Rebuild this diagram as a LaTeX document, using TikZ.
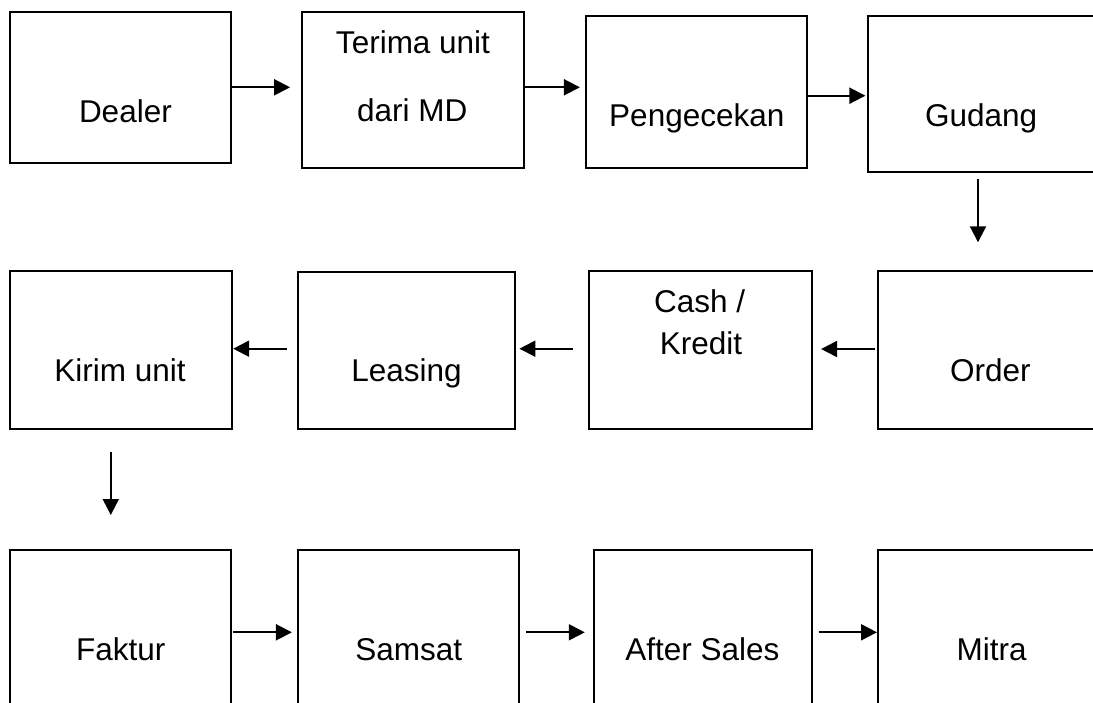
\documentclass[tikz,border=0pt]{standalone}
\usepackage{fontspec}
\setmainfont{Liberation Sans}
\usetikzlibrary{arrows.meta}

\begin{document}
\begin{tikzpicture}[x=1pt,y=-1pt,line width=2pt,>={Triangle[length=16pt,width=16pt]},main box/.style={rectangle,draw,inner sep=0pt},box text/.style={anchor=base,inner sep=0pt,font=\fontsize{31.5}{38}\selectfont}]

                    \useasboundingbox (0,0) rectangle (1093,702);
                    \clip (0,0) rectangle (1093,702);

                    \node[main box,minimum width=221pt,minimum height=151pt] at (120.3,87.8) (dealer) {};
                    \node[main box,minimum width=221.3pt,minimum height=155.4pt] at (413.05,90) (terima) {};
                    \node[main box,minimum width=221pt,minimum height=151.7pt] at (696.6,91.85) (cek) {};
                    \node[main box,minimum width=232.5pt,minimum height=156.3pt] at (983.75,94.15) (gudang) {};
                    \node[main box,minimum width=221.7pt,minimum height=158pt] at (120.65,350) (kirim) {};
                    \node[main box,minimum width=217.4pt,minimum height=157.6pt] at (406.2,350.5) (leasing) {};
                    \node[main box,minimum width=223.8pt,minimum height=158.3pt] at (700.5,350.15) (bayar) {};
                    \node[main box,minimum width=222pt,minimum height=158.3pt] at (989,350.15) (order) {};
                    \node[main box,minimum width=221pt,minimum height=170pt] at (120.3,635) (faktur) {};
                    \node[main box,minimum width=221.6pt,minimum height=170pt] at (408.3,635) (samsat) {};
                    \node[main box,minimum width=218.5pt,minimum height=170pt] at (703.15,635) (aftersales) {};
                    \node[main box,minimum width=222pt,minimum height=170pt] at (989,635) (mitra) {};

                    \node[box text] at (125.4,122.3) (t-dealer) {Dealer};
                    \node[box text] at (413,53.3) (t-terima) {Terima unit};
                    \node[box text] at (412.3,121.7) (t-md) {dari MD};
                    \node[box text] at (696.8,126.7) (t-cek) {Pengecekan};
                    \node[box text] at (981.1,126.7) (t-gudang) {Gudang};
                    \node[box text] at (120.1,381) (t-kirim) {Kirim unit};
                    \node[box text] at (406.5,381) (t-leasing) {Leasing};
                    \node[box text] at (699.6,312.7) (t-cash) {Cash /};
                    \node[box text] at (701,354.3) (t-kredit) {Kredit};
                    \node[box text] at (990.3,381) (t-order) {Order};
                    \node[box text] at (120.7,660) (t-faktur) {Faktur};
                    \node[box text] at (408.7,660) (t-samsat) {Samsat};
                    \node[box text] at (702.3,660) (t-aftersales) {After Sales};
                    \node[box text] at (991.7,660) (t-mitra) {Mitra};

                    \path[->] (dealer.east |- 0,87.3) edge[shorten >=11.3pt] (terima.west |- 0,87.3);
                    \path[->] (terima.east |- 0,87.3) edge[shorten >=5.2pt] (cek.west |- 0,87.3);
                    \path[->] (cek.east |- 0,95.7) edge[shorten >=1.1pt] (gudang.west |- 0,95.7);
                    \path[->] (gudang.south -| 978,0) edge[shorten <=6pt, shorten >=27.7pt] (order.north -| 978,0);
                    \path[->] (order.west |- 0,349) edge[shorten <=2.5pt, shorten >=7.7pt] (bayar.east |- 0,349);
                    \path[->] (bayar.west |- 0,348.7) edge[shorten <=15.1pt, shorten >=3.5pt] (leasing.east |- 0,348.7);
                    \path[->] (leasing.west |- 0,348.7) edge[shorten <=9.9pt, shorten >=0.7pt] (kirim.east |- 0,348.7);
                    \path[->] (kirim.south -| 110.8,0) edge[shorten <=22pt, shorten >=34pt] (faktur.north -| 110.8,0);
                    \path[->] (faktur.east |- 0,632.3) edge[shorten <=1.4pt, shorten >=4.6pt] (samsat.west |- 0,632.3);
                    \path[->] (samsat.east |- 0,632.3) edge[shorten <=6pt, shorten >=8.1pt] (aftersales.west |- 0,632.3);
                    \path[->] (aftersales.east |- 0,632.3) edge[shorten <=5.3pt] (mitra.west |- 0,632.3);
                \end{tikzpicture}
\end{document}
